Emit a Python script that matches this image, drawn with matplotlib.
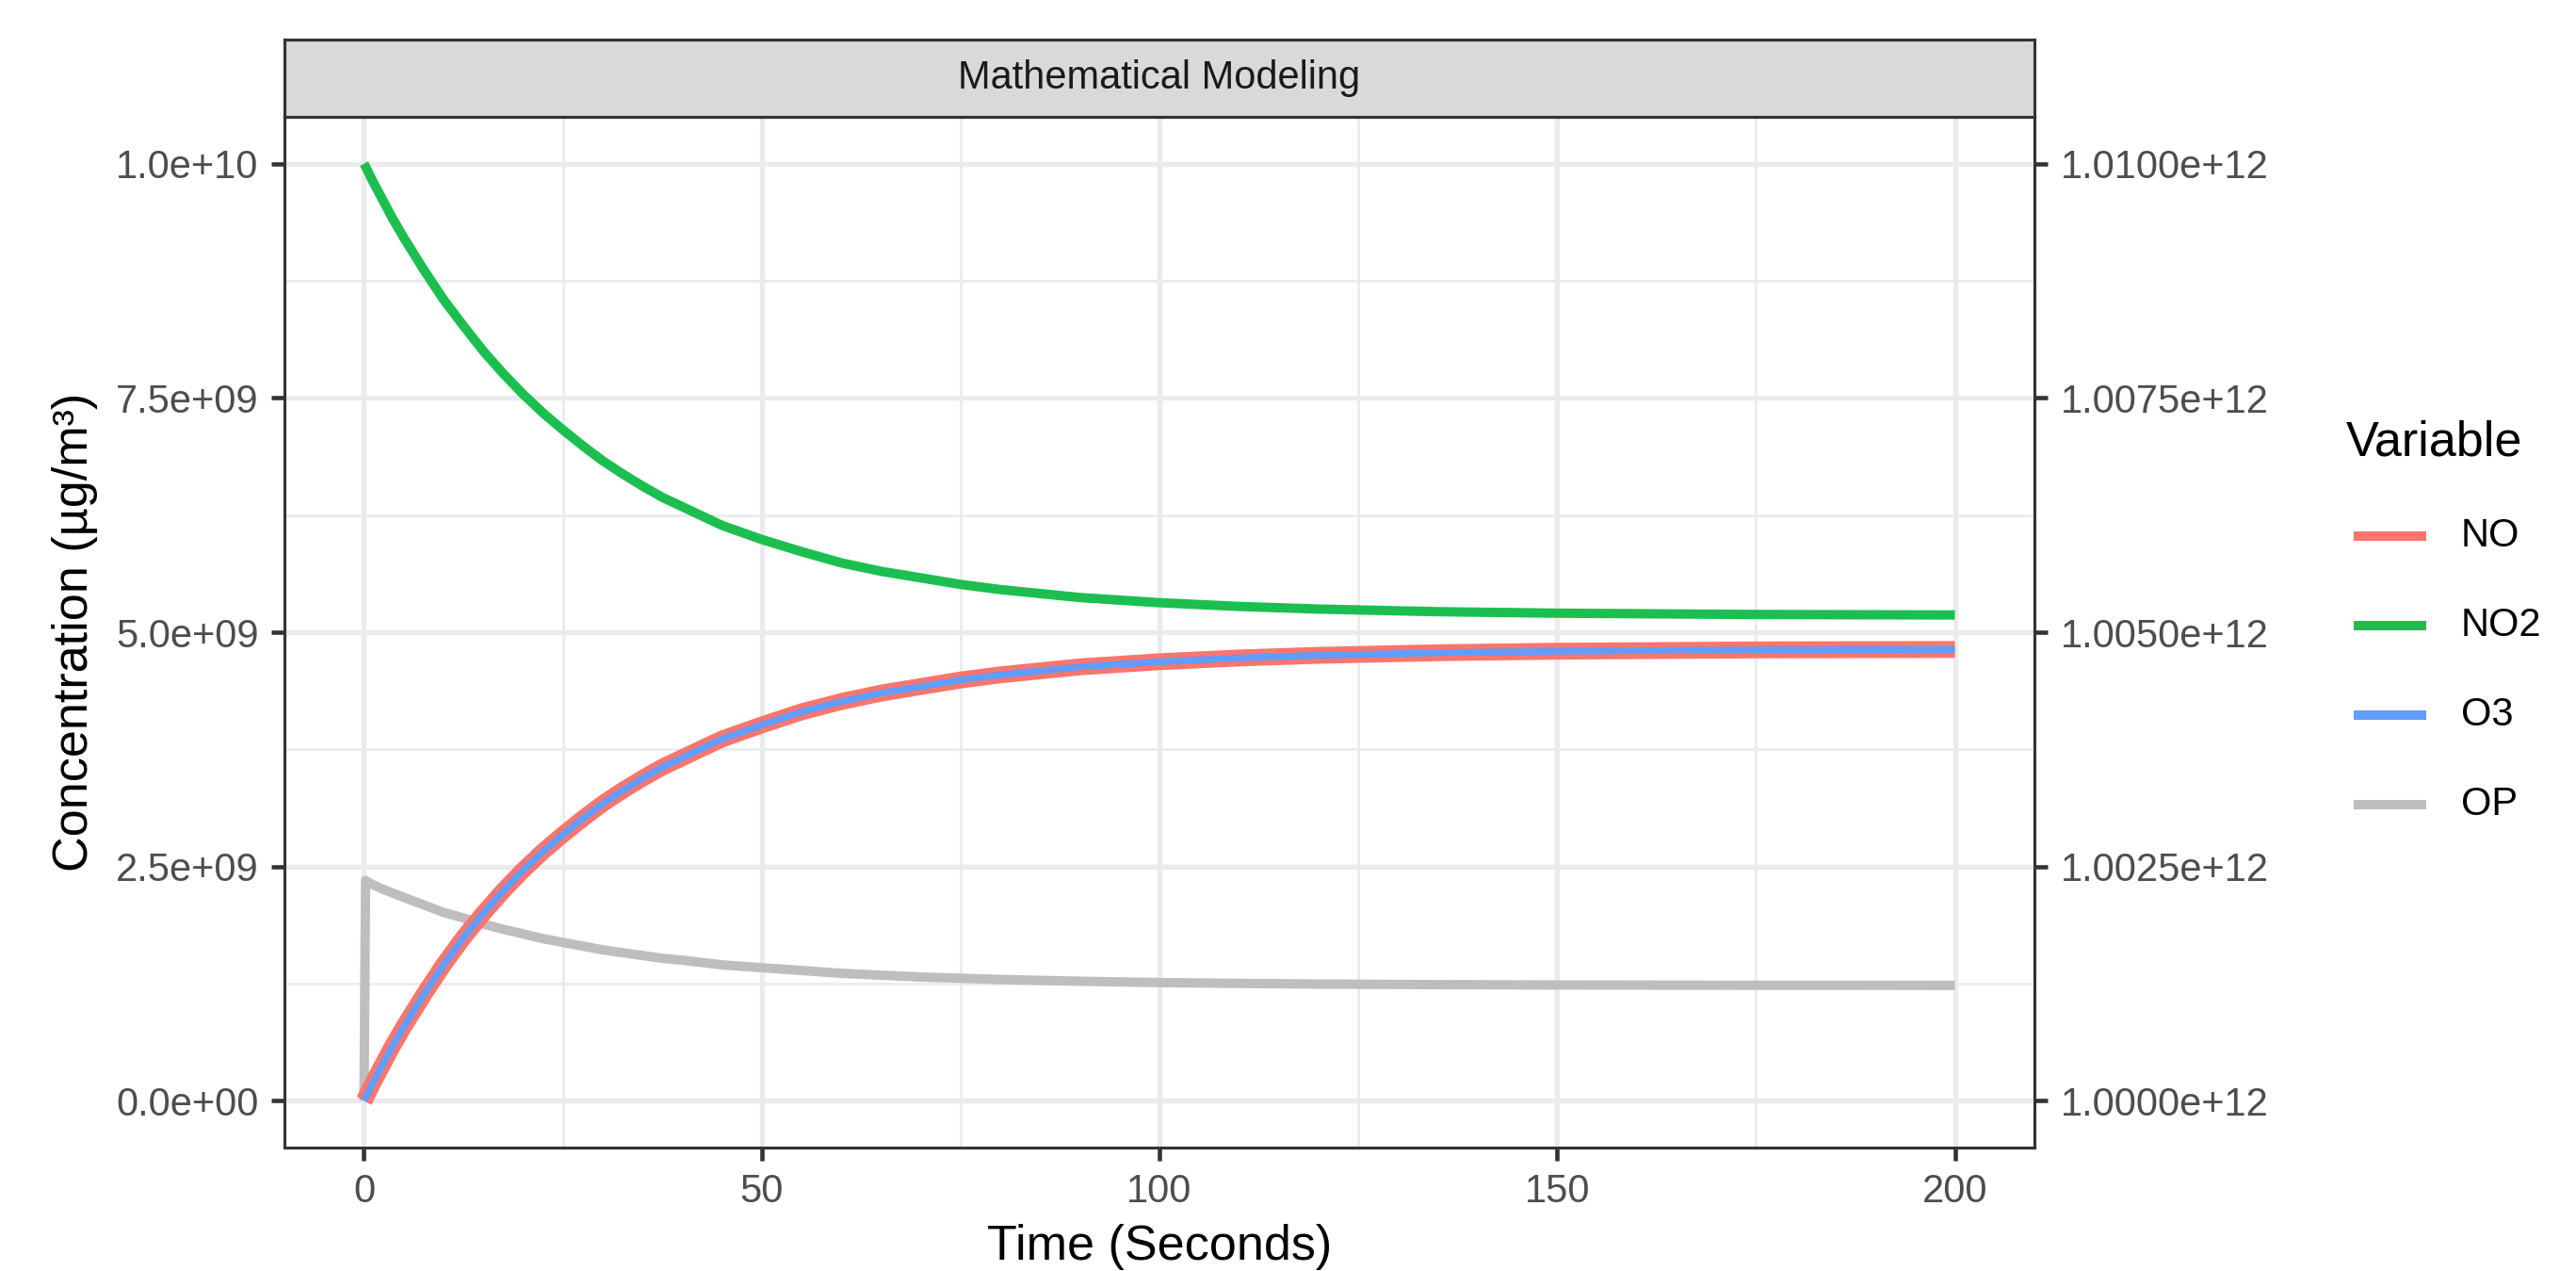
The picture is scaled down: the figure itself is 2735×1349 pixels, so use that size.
import matplotlib
matplotlib.use("Agg")
import matplotlib.pyplot as plt
from matplotlib.lines import Line2D
from matplotlib.ticker import FuncFormatter
import numpy as np

plt.rcParams['font.family'] = ['Liberation Sans', 'DejaVu Sans']

# --- data (values in 1e9 ug/m3) ---
time_s = [0, 0.2, 1, 2, 3.5, 5, 7.5, 10, 12.5, 15, 17.5, 20, 22.5, 25, 27.5, 30,
          32.5, 35, 37.5, 40, 45, 50, 55, 60, 65, 70, 75, 80, 90, 100, 110, 120,
          135, 150, 175, 200]
no_vals = [0.00, 0.03, 0.17, 0.33, 0.57, 0.79, 1.13, 1.45, 1.74, 2.00, 2.24, 2.46,
           2.66, 2.84, 3.01, 3.17, 3.31, 3.44, 3.56, 3.66, 3.86, 4.01, 4.15, 4.26,
           4.35, 4.42, 4.49, 4.545, 4.63, 4.685, 4.725, 4.753, 4.781, 4.797, 4.811,
           4.816]
no2_vals = [10.00, 9.97, 9.83, 9.67, 9.43, 9.21, 8.87, 8.55, 8.27, 8.00, 7.76, 7.54,
            7.34, 7.16, 6.99, 6.83, 6.69, 6.56, 6.44, 6.34, 6.14, 5.99, 5.86, 5.74,
            5.65, 5.58, 5.51, 5.455, 5.37, 5.315, 5.275, 5.247, 5.219, 5.203, 5.189,
            5.184]
o3_vals = [0.00, 0.03, 0.17, 0.33, 0.57, 0.79, 1.13, 1.45, 1.74, 2.00, 2.24, 2.46,
           2.66, 2.84, 3.01, 3.17, 3.31, 3.44, 3.56, 3.66, 3.86, 4.01, 4.15, 4.26,
           4.35, 4.42, 4.49, 4.545, 4.63, 4.685, 4.725, 4.753, 4.781, 4.797, 4.811,
           4.816]
op_vals = [0.00, 2.35, 2.31, 2.27, 2.22, 2.17, 2.09, 2.01, 1.95, 1.885, 1.83, 1.78,
           1.73, 1.69, 1.65, 1.61, 1.58, 1.55, 1.52, 1.50, 1.45, 1.42, 1.39, 1.36,
           1.34, 1.32, 1.307, 1.294, 1.275, 1.261, 1.252, 1.245, 1.239, 1.235, 1.232,
           1.231]

variables = ["NO", "NO2", "O3", "OP"]
colors = {"NO": "#F8766D", "NO2": "#1CBF4F", "O3": "#619CFF", "OP": "#BEBEBE"}
widths = {"NO": 4.3, "NO2": 2.4, "O3": 1.7, "OP": 2.4}
series = {"NO": no_vals, "NO2": no2_vals, "O3": o3_vals, "OP": op_vals}
draw_order = ["OP", "NO", "O3", "NO2"]

x_major = [0, 50, 100, 150, 200]
x_minor = [25, 75, 125, 175]
y_major = [0, 2.5e9, 5.0e9, 7.5e9, 1.0e10]
y_minor = [1.25e9, 3.75e9, 6.25e9, 8.75e9]
sec_offset = 1e12

W, H = 2735, 1349
fig = plt.figure(figsize=(W / 300, H / 300), dpi=300)

left, right, bottom, top = 302 / W, 2160 / W, 1 - 1218 / H, 1 - 124 / H
ax = fig.add_axes([left, bottom, right - left, top - bottom])

t = np.array(time_s)
for name in draw_order:
    ax.plot(t, np.array(series[name]) * 1e9, color=colors[name], lw=widths[name],
            solid_capstyle='butt', solid_joinstyle='round', zorder=3)

ax.set_xlim(-10, 210)
ax.set_ylim(-5e8, 1.05e10)
ax.set_xticks(x_major)
ax.set_xticks(x_minor, minor=True)
ax.set_yticks(y_major)
ax.set_yticks(y_minor, minor=True)
ax.yaxis.set_major_formatter(FuncFormatter(lambda v, p: f"{v:.1e}"))

ax.grid(which='major', color='#EBEBEB', lw=1.25, zorder=0)
ax.grid(which='minor', color='#EBEBEB', lw=0.65, zorder=0)
ax.set_axisbelow(True)

ax.tick_params(which='major', length=3.3, width=1.1, color='#333333',
               labelcolor='#4D4D4D', labelsize=10, pad=3.3)
ax.tick_params(which='minor', length=0)
for sp in ax.spines.values():
    sp.set_color('#333333')
    sp.set_linewidth(0.75)

# secondary axis on the right
ax2 = ax.twinx()
ax2.set_ylim(ax.get_ylim())
ax2.set_yticks(y_major)
ax2.yaxis.set_major_formatter(FuncFormatter(lambda v, p: f"{v + sec_offset:.4e}"))
ax2.tick_params(length=3.3, width=1.1, color='#333333', labelcolor='#4D4D4D',
                labelsize=10, pad=3.5)
for sp in ax2.spines.values():
    sp.set_visible(False)

# facet strip
strip_top = 1 - 42 / H
sax = fig.add_axes([left, top, right - left, strip_top - top])
sax.set_facecolor('#D9D9D9')
sax.set_xticks([])
sax.set_yticks([])
for sp in sax.spines.values():
    sp.set_color('#333333')
    sp.set_linewidth(0.75)
sax.text(0.5, 0.5, "Mathematical Modeling", ha='center', va='center',
         fontsize=10, color='#1A1A1A', transform=sax.transAxes)

# axis titles
fig.text((left + right) / 2, 1 - 1337 / H, "Time (Seconds)", ha='center',
         va='baseline', fontsize=12.5)
fig.text(80 / W, (top + bottom) / 2, "Concentration (µg/m³)", ha='center',
         va='center', rotation=90, fontsize=12.5)

# legend
fig.text(2491 / W, 1 - 470 / H, "Variable", ha='left', va='center', fontsize=12.5)
key_y = [569, 664, 759, 854]
for name, ky in zip(variables, key_y):
    yy = 1 - ky / H
    fig.add_artist(Line2D([2499 / W, 2576 / W], [yy, yy], color=colors[name],
                          lw=2.4, solid_capstyle='butt', transform=fig.transFigure))
    fig.text(2613 / W, yy, name, ha='left', va='center', fontsize=10)

fig.savefig("out.png", dpi=300)
